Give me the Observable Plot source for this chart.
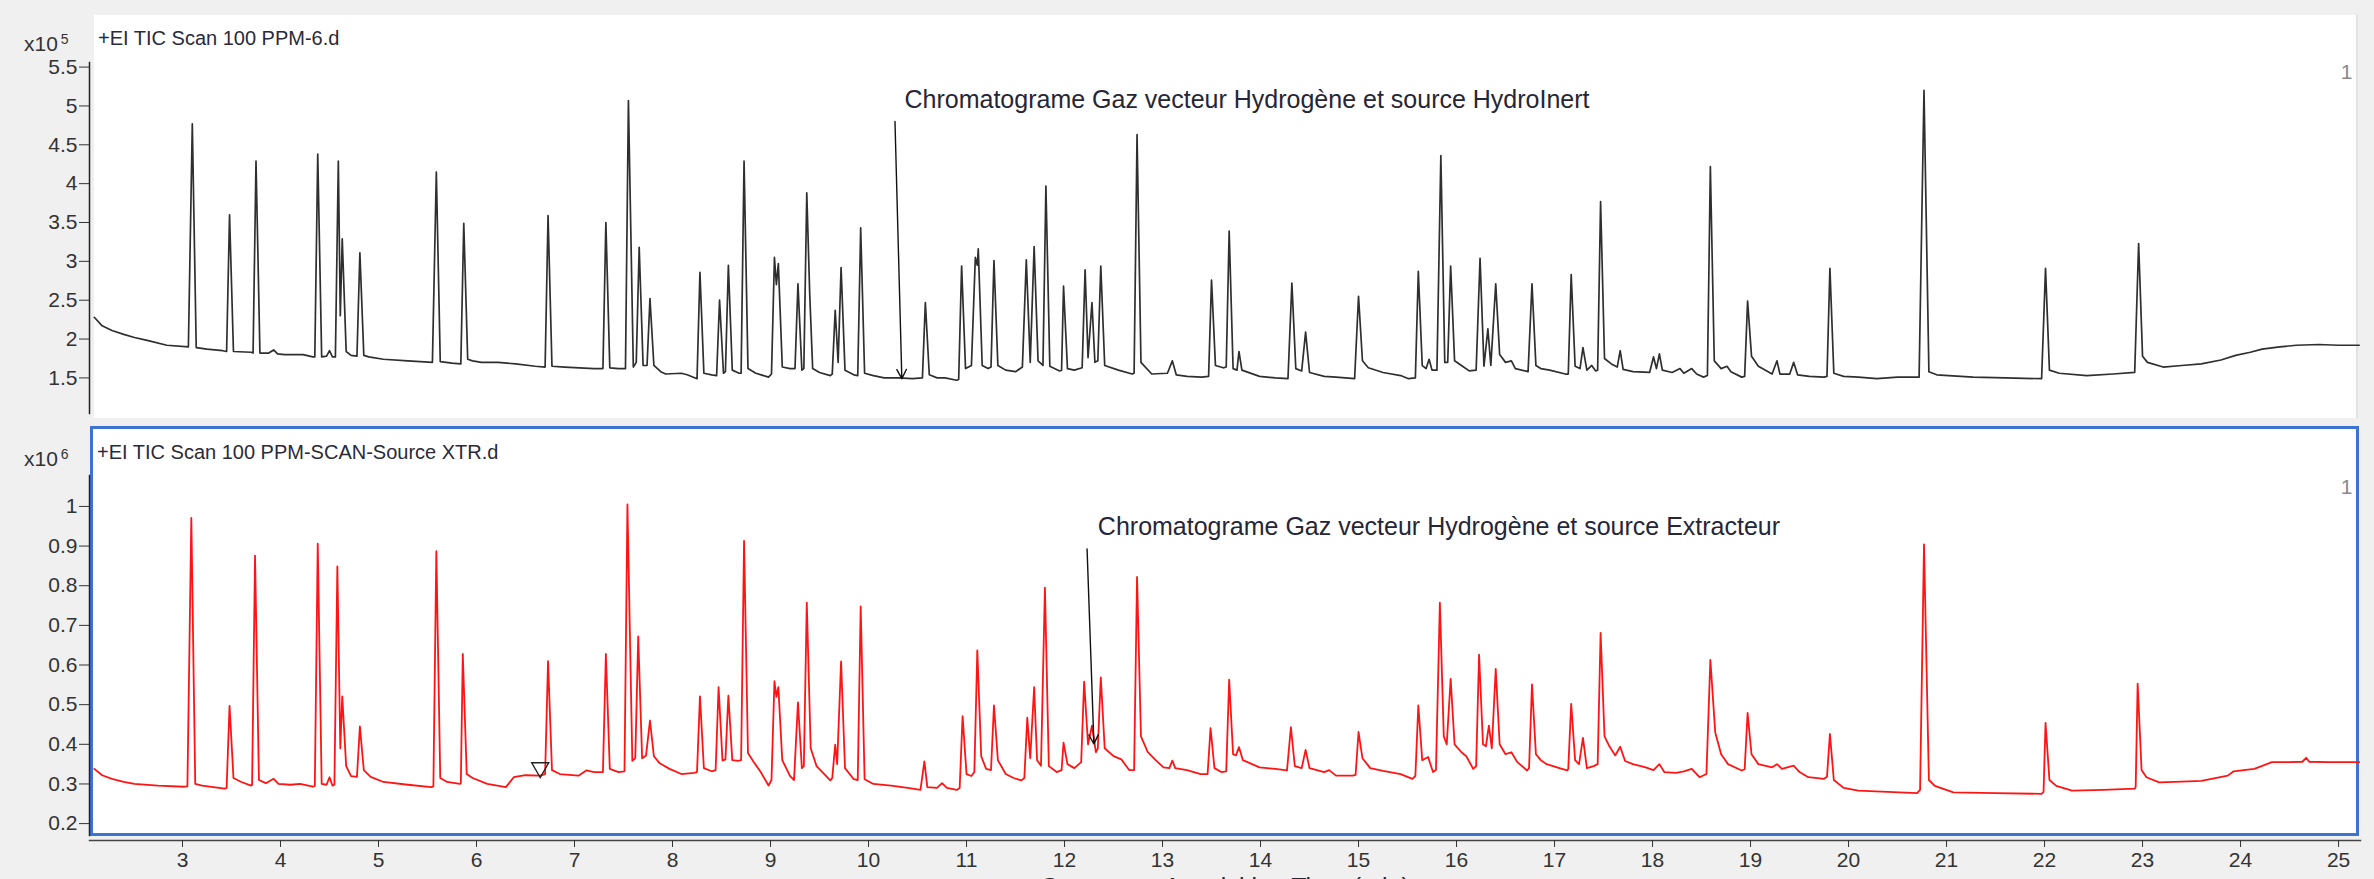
<!DOCTYPE html>
<html>
<head>
<meta charset="utf-8">
<script src="https://cdn.jsdelivr.net/npm/d3@7"></script>
<script src="https://cdn.jsdelivr.net/npm/@observablehq/plot@0.6"></script>
<style>
  html, body { margin: 0; padding: 0; background: #f0f0f0; }
  #root { position: relative; width: 2374px; height: 879px; background: #f0f0f0; overflow: hidden;
          font-family: "Liberation Sans", Arial, sans-serif; }
  .abs { position: absolute; }
  .panelTop { left: 94px; top: 15px; width: 2262px; height: 403px; background: #fff; border-right: 2px solid #e2e2e2; }
  .panelBot { left: 90px; top: 426px; width: 2269px; height: 410px; background: #fff; border: 3px solid #3d74d4; box-sizing: border-box; }
  .ttl { font-size: 20px; color: #2a2a3a; line-height: 20px; white-space: pre; }
  .mult { font-size: 21px; color: #333; line-height: 21px; white-space: pre; }
  .mult sup { font-size: 14px; vertical-align: 7px; margin-left: 3px; }
  svg.plot { position: absolute; left: 0; }
</style>
</head>
<body>
<div id="root">
  <div class="abs panelTop"></div>
  <div class="abs panelBot"></div>
  <div id="topPlot" class="abs" style="left:0;top:0"></div>
  <div id="botPlot" class="abs" style="left:0;top:427px"></div>
  <div id="topMult" class="abs mult" style="left:24px;top:29px"></div>
  <div id="topTitle" class="abs ttl" style="left:98px;top:28px"></div>
  <div id="botMult" class="abs mult" style="left:24px;top:444px"></div>
  <div id="botTitle" class="abs ttl" style="left:97px;top:442px"></div>
</div>
<script>
// ---------- texts ----------
const panelTitles = ["+EI TIC Scan 100 PPM-6.d", "+EI TIC Scan 100 PPM-SCAN-Source XTR.d"];
const panelExponents = ["5", "6"];
const panelIndex = ["1", "1"];
const xAxisLabel = ["Counts vs. Acquisition Time (min)"];

// ---------- scales ----------
const xDomain = [2.051, 25.224];
const xTicks = [3,4,5,6,7,8,9,10,11,12,13,14,15,16,17,18,19,20,21,22,23,24,25];
const topYDomain = [1.042, 5.559];
const topYTicks = [1.5,2,2.5,3,3.5,4,4.5,5,5.5];
const botYDomain = [0.170, 1.078];
const botYTicks = [0.2,0.3,0.4,0.5,0.6,0.7,0.8,0.9,1];

// ---------- annotations ----------
const annotationText = ["Chromatograme Gaz vecteur Hydrogène et source HydroInert",
                        "Chromatograme Gaz vecteur Hydrogène et source Extracteur"];
const annotationTime = [10.367, 12.34];
const annotationValue = [5.07, 0.947];
// arrows: [t1, v1, t2, v2]
const arrowTop = [10.27, 4.80, 10.34, 1.49];
const arrowBot = [12.23, 0.893, 12.30, 0.401];
// open triangle marker on bottom trace
const markerBot = [6.65, 0.341];

// ---------- traces: [time (min), counts] ----------
const topTrace = [
[2.10,2.28],[2.18,2.17],[2.28,2.11],[2.40,2.06],[2.51,2.02],[2.65,1.98],[2.84,1.92],[3.06,1.90],
[3.10,4.77],[3.14,1.89],[3.25,1.87],[3.41,1.85],[3.45,1.84],[3.48,3.60],[3.52,1.84],[3.70,1.83],
[3.72,1.82],[3.75,4.29],[3.79,1.82],[3.88,1.82],[3.93,1.86],[3.97,1.81],[4.04,1.80],[4.23,1.80],
[4.33,1.77],[4.35,1.77],[4.38,4.38],[4.42,1.77],[4.47,1.78],[4.50,1.85],[4.53,1.77],[4.56,1.77],
[4.59,4.29],[4.61,2.30],[4.63,3.29],[4.67,1.84],[4.72,1.79],[4.78,1.78],[4.81,3.11],[4.85,1.79],
[4.90,1.77],[5.05,1.74],[5.30,1.72],[5.55,1.70],[5.59,4.15],[5.63,1.71],[5.75,1.69],[5.84,1.68],
[5.87,3.49],[5.91,1.74],[5.96,1.72],[6.05,1.70],[6.22,1.70],[6.40,1.68],[6.60,1.65],[6.70,1.64],
[6.73,3.59],[6.77,1.65],[6.90,1.64],[7.05,1.63],[7.20,1.62],[7.29,1.62],[7.32,3.50],[7.36,1.63],
[7.45,1.62],[7.52,1.62],[7.55,5.07],[7.60,1.64],[7.63,1.70],[7.66,3.18],[7.70,1.66],[7.74,1.66],
[7.77,2.52],[7.81,1.66],[7.88,1.58],[7.93,1.55],[8.09,1.56],[8.15,1.54],[8.25,1.49],[8.28,2.86],
[8.32,1.56],[8.40,1.54],[8.45,1.53],[8.48,2.50],[8.52,1.56],[8.54,1.58],[8.57,2.95],[8.61,1.60],
[8.68,1.56],[8.70,1.56],[8.73,4.29],[8.77,1.62],[8.85,1.56],[8.98,1.51],[9.01,1.55],[9.04,3.05],
[9.06,2.70],[9.08,2.97],[9.12,1.64],[9.20,1.62],[9.25,1.62],[9.28,2.71],[9.32,1.60],[9.34,1.62],
[9.37,3.88],[9.40,2.58],[9.43,1.62],[9.50,1.57],[9.61,1.53],[9.63,1.55],[9.66,2.37],[9.69,1.70],
[9.72,2.92],[9.76,1.60],[9.85,1.54],[9.89,1.53],[9.92,3.43],[9.96,1.56],[10.05,1.53],[10.16,1.50],
[10.30,1.50],[10.45,1.49],[10.55,1.50],[10.58,2.47],[10.62,1.54],[10.70,1.50],[10.78,1.50],[10.90,1.47],
[10.92,1.48],[10.95,2.94],[10.99,1.62],[11.05,1.66],[11.09,3.05],[11.11,2.95],[11.12,3.16],[11.16,1.66],
[11.22,1.62],[11.25,1.64],[11.28,3.01],[11.32,1.66],[11.40,1.60],[11.50,1.58],[11.57,1.64],[11.61,3.02],
[11.65,1.70],[11.69,3.19],[11.73,1.72],[11.78,1.66],[11.81,3.97],[11.85,1.65],[11.95,1.59],[11.97,1.60],
[11.99,2.68],[12.03,1.62],[12.10,1.60],[12.18,1.63],[12.21,2.89],[12.24,1.76],[12.28,2.47],[12.31,1.70],
[12.34,1.72],[12.37,2.94],[12.41,1.66],[12.55,1.60],[12.69,1.55],[12.71,1.56],[12.74,4.63],[12.78,1.70],
[12.89,1.55],[13.05,1.56],[13.10,1.72],[13.14,1.54],[13.25,1.52],[13.40,1.51],[13.47,1.52],[13.50,2.76],
[13.54,1.66],[13.62,1.63],[13.65,1.64],[13.68,3.39],[13.72,1.62],[13.76,1.60],[13.78,1.84],[13.81,1.60],
[13.99,1.52],[14.15,1.50],[14.28,1.49],[14.32,2.72],[14.36,1.62],[14.42,1.59],[14.46,2.09],[14.50,1.57],
[14.65,1.52],[14.77,1.51],[14.96,1.49],[15.00,2.55],[15.04,1.72],[15.10,1.63],[15.25,1.57],[15.43,1.53],
[15.51,1.49],[15.58,1.50],[15.61,2.87],[15.65,1.66],[15.69,1.62],[15.72,1.74],[15.75,1.60],[15.80,1.60],
[15.84,4.36],[15.88,1.70],[15.91,1.70],[15.94,2.94],[15.98,1.72],[16.05,1.66],[16.13,1.59],[16.20,1.60],
[16.24,3.04],[16.28,1.65],[16.32,2.13],[16.35,1.66],[16.40,2.71],[16.44,1.80],[16.50,1.70],[16.56,1.72],
[16.60,1.62],[16.73,1.58],[16.77,2.71],[16.81,1.66],[16.86,1.62],[16.95,1.60],[17.11,1.55],[17.14,1.55],
[17.17,2.83],[17.21,1.65],[17.26,1.62],[17.29,1.89],[17.33,1.60],[17.38,1.66],[17.42,1.59],[17.44,1.60],
[17.47,3.77],[17.51,1.75],[17.58,1.68],[17.64,1.64],[17.67,1.85],[17.70,1.61],[17.80,1.58],[17.97,1.57],
[18.01,1.77],[18.04,1.62],[18.07,1.81],[18.10,1.60],[18.20,1.57],[18.28,1.62],[18.32,1.56],[18.40,1.62],
[18.45,1.55],[18.52,1.51],[18.56,1.53],[18.59,4.22],[18.63,1.72],[18.70,1.62],[18.76,1.65],[18.80,1.58],
[18.91,1.51],[18.94,1.52],[18.97,2.49],[19.01,1.78],[19.08,1.65],[19.22,1.55],[19.27,1.72],[19.30,1.55],
[19.40,1.55],[19.44,1.70],[19.48,1.54],[19.60,1.52],[19.75,1.51],[19.78,1.52],[19.81,2.91],[19.85,1.56],
[19.95,1.52],[20.10,1.51],[20.29,1.49],[20.50,1.51],[20.72,1.51],[20.77,5.20],[20.82,1.58],[20.90,1.54],
[21.27,1.51],[21.60,1.50],[21.97,1.49],[22.01,2.91],[22.05,1.60],[22.15,1.56],[22.43,1.53],[22.70,1.55],
[22.92,1.57],[22.96,3.23],[23.00,1.78],[23.05,1.70],[23.21,1.64],[23.40,1.66],[23.60,1.68],[23.80,1.73],
[23.95,1.79],[24.10,1.83],[24.22,1.87],[24.40,1.90],[24.57,1.92],[24.80,1.93],[25.00,1.92],[25.21,1.92]
];

const botTrace = [
[2.10,0.338],[2.18,0.322],[2.28,0.313],[2.40,0.305],[2.51,0.300],[2.75,0.296],[3.02,0.293],[3.05,0.294],
[3.09,0.971],[3.13,0.300],[3.20,0.296],[3.43,0.288],[3.45,0.290],[3.48,0.497],[3.52,0.315],[3.60,0.305],
[3.70,0.296],[3.71,0.298],[3.74,0.876],[3.78,0.310],[3.85,0.302],[3.93,0.313],[3.98,0.300],[4.10,0.298],
[4.20,0.300],[4.33,0.293],[4.35,0.295],[4.38,0.906],[4.42,0.300],[4.47,0.298],[4.50,0.317],[4.53,0.296],
[4.55,0.298],[4.58,0.849],[4.61,0.390],[4.63,0.521],[4.67,0.345],[4.72,0.320],[4.78,0.318],[4.81,0.445],
[4.85,0.335],[4.92,0.318],[5.05,0.305],[5.30,0.298],[5.54,0.292],[5.56,0.294],[5.59,0.887],[5.63,0.315],
[5.70,0.305],[5.83,0.300],[5.84,0.302],[5.86,0.628],[5.90,0.325],[5.96,0.315],[6.11,0.300],[6.30,0.292],
[6.38,0.317],[6.50,0.322],[6.65,0.321],[6.70,0.325],[6.73,0.610],[6.77,0.335],[6.85,0.325],[7.04,0.321],
[7.12,0.334],[7.20,0.330],[7.29,0.330],[7.32,0.628],[7.36,0.338],[7.45,0.330],[7.51,0.332],[7.54,1.005],
[7.59,0.358],[7.62,0.365],[7.65,0.672],[7.69,0.365],[7.73,0.372],[7.77,0.460],[7.81,0.370],[7.87,0.352],
[7.97,0.338],[8.09,0.325],[8.22,0.328],[8.25,0.330],[8.28,0.521],[8.32,0.340],[8.40,0.332],[8.44,0.335],
[8.47,0.544],[8.51,0.359],[8.54,0.362],[8.57,0.523],[8.61,0.360],[8.67,0.358],[8.70,0.360],[8.73,0.913],
[8.77,0.378],[8.83,0.355],[8.90,0.330],[8.98,0.296],[9.01,0.310],[9.04,0.559],[9.06,0.520],[9.08,0.544],
[9.12,0.360],[9.20,0.320],[9.24,0.310],[9.28,0.506],[9.32,0.340],[9.34,0.345],[9.37,0.757],[9.41,0.390],
[9.47,0.345],[9.61,0.309],[9.63,0.315],[9.66,0.399],[9.68,0.350],[9.72,0.609],[9.76,0.340],[9.85,0.312],
[9.89,0.310],[9.92,0.748],[9.96,0.312],[10.05,0.300],[10.23,0.296],[10.40,0.290],[10.53,0.285],[10.57,0.357],
[10.60,0.292],[10.70,0.290],[10.75,0.302],[10.80,0.290],[10.90,0.285],[10.93,0.290],[10.96,0.471],[11.00,0.325],
[11.05,0.320],[11.08,0.330],[11.11,0.637],[11.15,0.370],[11.20,0.338],[11.25,0.335],[11.28,0.498],[11.32,0.360],
[11.40,0.325],[11.48,0.315],[11.56,0.309],[11.59,0.315],[11.62,0.467],[11.65,0.365],[11.69,0.544],[11.72,0.360],
[11.76,0.346],[11.80,0.795],[11.84,0.345],[11.92,0.330],[11.97,0.335],[11.99,0.404],[12.03,0.350],[12.10,0.340],
[12.17,0.355],[12.20,0.558],[12.24,0.400],[12.28,0.447],[12.32,0.380],[12.34,0.390],[12.37,0.569],[12.41,0.390],
[12.50,0.370],[12.58,0.362],[12.66,0.335],[12.71,0.335],[12.74,0.822],[12.78,0.420],[12.85,0.380],[12.93,0.360],
[13.01,0.342],[13.07,0.340],[13.10,0.359],[13.13,0.340],[13.25,0.335],[13.39,0.325],[13.46,0.325],[13.49,0.441],
[13.53,0.340],[13.60,0.330],[13.65,0.332],[13.68,0.563],[13.72,0.375],[13.75,0.372],[13.78,0.393],[13.82,0.360],
[13.99,0.342],[14.15,0.338],[14.27,0.334],[14.31,0.443],[14.35,0.345],[14.42,0.340],[14.46,0.386],[14.50,0.340],
[14.65,0.330],[14.70,0.335],[14.77,0.321],[14.94,0.321],[14.97,0.323],[15.00,0.431],[15.04,0.365],[15.12,0.340],
[15.25,0.333],[15.43,0.325],[15.55,0.313],[15.58,0.320],[15.61,0.498],[15.65,0.360],[15.71,0.368],[15.76,0.330],
[15.79,0.335],[15.83,0.757],[15.87,0.420],[15.90,0.400],[15.94,0.565],[15.98,0.400],[16.05,0.380],[16.10,0.370],
[16.17,0.338],[16.20,0.345],[16.23,0.626],[16.27,0.400],[16.30,0.395],[16.33,0.447],[16.36,0.390],[16.40,0.590],
[16.44,0.400],[16.50,0.375],[16.56,0.380],[16.62,0.355],[16.72,0.334],[16.74,0.340],[16.77,0.551],[16.81,0.375],
[16.86,0.360],[16.92,0.350],[17.05,0.340],[17.13,0.334],[17.14,0.338],[17.17,0.502],[17.21,0.360],[17.25,0.350],
[17.29,0.416],[17.33,0.340],[17.40,0.345],[17.44,0.350],[17.47,0.681],[17.51,0.420],[17.56,0.395],[17.62,0.372],
[17.67,0.394],[17.72,0.358],[17.80,0.350],[17.93,0.342],[18.01,0.335],[18.07,0.350],[18.12,0.330],[18.24,0.328],
[18.32,0.332],[18.40,0.338],[18.48,0.317],[18.55,0.325],[18.59,0.613],[18.64,0.430],[18.70,0.375],[18.77,0.350],
[18.91,0.334],[18.94,0.337],[18.97,0.479],[19.01,0.375],[19.08,0.350],[19.22,0.342],[19.27,0.350],[19.32,0.338],
[19.44,0.346],[19.50,0.330],[19.59,0.317],[19.75,0.313],[19.78,0.318],[19.81,0.426],[19.85,0.310],[19.95,0.290],
[20.10,0.283],[20.40,0.280],[20.70,0.277],[20.73,0.285],[20.77,0.904],[20.82,0.310],[20.88,0.295],[21.07,0.279],
[21.50,0.277],[21.97,0.275],[21.99,0.280],[22.01,0.454],[22.05,0.310],[22.12,0.295],[22.28,0.283],[22.60,0.285],
[22.92,0.288],[22.93,0.292],[22.95,0.553],[22.99,0.335],[23.04,0.317],[23.17,0.304],[23.40,0.306],[23.60,0.308],
[23.87,0.321],[23.93,0.332],[24.14,0.338],[24.32,0.355],[24.50,0.355],[24.63,0.356],[24.67,0.366],[24.70,0.356],
[24.90,0.355],[25.21,0.355]
];

// ---------- build tables ----------
const topData = topTrace.map(([t, v]) => ({t, v}));
const botData = botTrace.map(([t, v]) => ({t, v}));
const annTop = [{t: annotationTime[0], v: annotationValue[0], s: annotationText[0]}];
const annBot = [{t: annotationTime[1], v: annotationValue[1], s: annotationText[1]}];
const arrTop = [{x1: arrowTop[0], y1: arrowTop[1], x2: arrowTop[2], y2: arrowTop[3]}];
const arrBot = [{x1: arrowBot[0], y1: arrowBot[1], x2: arrowBot[2], y2: arrowBot[3]}];
const mk = [{t: markerBot[0], v: markerBot[1]}];

const FONT = "Liberation Sans, Arial, sans-serif";
const TICK = "#333";
const fmt = d3.format("~g");

const topChart = Plot.plot({
  width: 2374, height: 427,
  marginLeft: 89, marginRight: 14, marginTop: 62, marginBottom: 14,
  style: {background: "transparent", fontFamily: FONT},
  x: {domain: xDomain, axis: null},
  y: {domain: topYDomain, axis: null},
  marks: [
    Plot.frame({anchor: "left", stroke: "#222", strokeWidth: 1.5}),
    Plot.axisY({ticks: topYTicks, tickFormat: fmt, tickSize: 10, tickPadding: 2, fontSize: 21, color: TICK, label: null}),
    Plot.line(topData, {x: "t", y: "v", stroke: "#2f2f2f", strokeWidth: 1.7, curve: "linear"}),
    Plot.text(annTop, {x: "t", y: "v", text: "s", textAnchor: "start", lineAnchor: "middle", fontSize: 25, fill: "#262636"}),
    Plot.arrow(arrTop, {x1: "x1", y1: "y1", x2: "x2", y2: "y2", stroke: "#111", strokeWidth: 1.4, headLength: 11, headAngle: 55}),
    Plot.text([panelIndex[0]], {frameAnchor: "top-right", dx: -14, dy: 10, textAnchor: "middle", lineAnchor: "middle", fontSize: 21, fill: "#8a8a8a"})
  ]
});
document.getElementById("topPlot").appendChild(topChart);

const botChart = Plot.plot({
  width: 2374, height: 452,
  marginLeft: 89, marginRight: 14, marginTop: 48, marginBottom: 44,
  style: {background: "transparent", fontFamily: FONT},
  x: {domain: xDomain, axis: null},
  y: {domain: botYDomain, axis: null},
  marks: [
    Plot.frame({anchor: "left", stroke: "#222", strokeWidth: 1.5}),
    Plot.frame({anchor: "bottom", stroke: "#444", strokeWidth: 1.5, dy: 5}),
    Plot.axisY({ticks: botYTicks, tickFormat: fmt, tickSize: 10, tickPadding: 2, fontSize: 21, color: TICK, label: null}),
    Plot.axisX({ticks: xTicks, tickFormat: fmt, tickSize: 7, tickPadding: 5, dy: 5, fontSize: 21, color: TICK, label: null}),
    Plot.line(botData, {x: "t", y: "v", stroke: "#ff1414", strokeWidth: 1.8, curve: "linear"}),
    Plot.dot(mk, {x: "t", y: "v", symbol: "triangle", rotate: 180, r: 6.3, stroke: "#222", strokeWidth: 1.4, fill: "none"}),
    Plot.text(annBot, {x: "t", y: "v", text: "s", textAnchor: "start", lineAnchor: "middle", fontSize: 25, fill: "#262636"}),
    Plot.arrow(arrBot, {x1: "x1", y1: "y1", x2: "x2", y2: "y2", stroke: "#111", strokeWidth: 1.4, headLength: 11, headAngle: 55}),
    Plot.text([panelIndex[1]], {frameAnchor: "top-right", dx: -14, dy: 12, textAnchor: "middle", lineAnchor: "middle", fontSize: 21, fill: "#8a8a8a"}),
    Plot.text(xAxisLabel, {frameAnchor: "bottom", dy: 60, textAnchor: "middle", lineAnchor: "bottom", fontSize: 25, fill: "#262636"})
  ]
});
document.getElementById("botPlot").appendChild(botChart);

// titles and multipliers
document.getElementById("topTitle").textContent = panelTitles[0];
document.getElementById("botTitle").textContent = panelTitles[1];
document.getElementById("topMult").innerHTML = "x10<sup>" + panelExponents[0] + "</sup>";
document.getElementById("botMult").innerHTML = "x10<sup>" + panelExponents[1] + "</sup>";
</script>
</body>
</html>
